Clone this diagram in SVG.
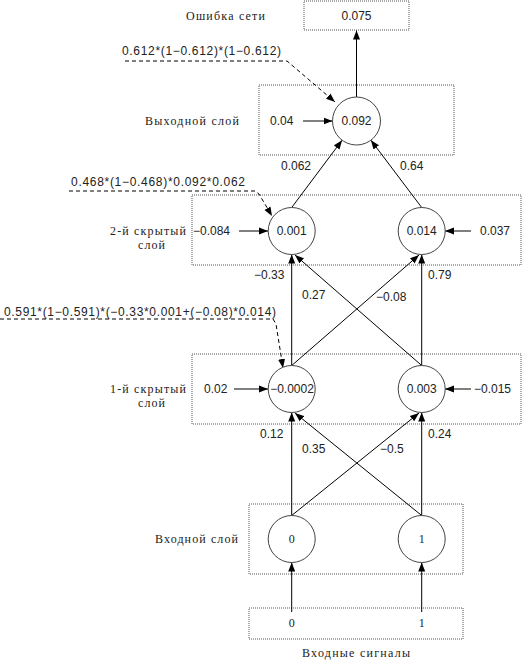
<svg xmlns="http://www.w3.org/2000/svg" width="527" height="667" viewBox="0 0 527 667">
<defs>
<marker id="ah" markerWidth="10" markerHeight="8" refX="9" refY="4" orient="auto" markerUnits="userSpaceOnUse">
<path d="M0,0.5 L9,4 L0,7.5 Z" fill="#000"/>
</marker>
<style>
.box{fill:none;stroke:#555;stroke-width:1;stroke-dasharray:1,1}
.node{fill:#fff;stroke:#444;stroke-width:1}
.c{stroke:#000;stroke-width:1;fill:none;marker-end:url(#ah)}
.d{stroke:#000;stroke-width:1;fill:none;stroke-dasharray:4,3}
.n{font-family:"Liberation Sans",Arial,sans-serif;font-size:12px;fill:#222}
.s{font-family:"Liberation Serif","Times New Roman",serif;font-size:12px;fill:#222}
.m{text-anchor:middle}
</style>
</defs>
<rect width="527" height="667" fill="#fff"/>

<g id="boxes">
<rect class="box" x="304" y="1" width="105" height="29"/>
<rect class="box" x="259" y="85" width="195" height="70"/>
<rect class="box" x="192" y="195" width="329" height="70"/>
<rect class="box" x="192" y="354" width="329" height="70"/>
<rect class="box" x="249" y="504" width="214" height="70"/>
<rect class="box" x="249" y="608" width="214" height="31"/>
</g>

<g id="labels">
<text class="s" x="186" y="20" textLength="79" lengthAdjust="spacing">Ошибка сети</text>
<text class="n m" x="356.5" y="20">0.075</text>
<text class="s" x="145" y="125" textLength="94" lengthAdjust="spacing">Выходной слой</text>
<text class="s" x="110" y="235" textLength="76" lengthAdjust="spacing">2-й скрытый</text>
<text class="s" x="138" y="249" textLength="27" lengthAdjust="spacing">слой</text>
<text class="s" x="110" y="393" textLength="76" lengthAdjust="spacing">1-й скрытый</text>
<text class="s" x="138" y="407" textLength="27" lengthAdjust="spacing">слой</text>
<text class="s" x="155" y="543" textLength="83" lengthAdjust="spacing">Входной слой</text>
<text class="s" x="302" y="657" textLength="108" lengthAdjust="spacing">Входные сигналы</text>
<text class="s m" x="291.7" y="627">0</text>
<text class="s m" x="421.7" y="627">1</text>
</g>

<g id="formulas">
<text class="n" x="122" y="55" textLength="159" lengthAdjust="spacing">0.612*(1−0.612)*(1−0.612)</text>
<text class="n" x="71" y="186" textLength="174" lengthAdjust="spacing">0.468*(1−0.468)*0.092*0.062</text>
<text class="n" x="4" y="316" textLength="272" lengthAdjust="spacing">0.591*(1−0.591)*(−0.33*0.001+(−0.08)*0.014)</text>
</g>

<g id="connectors">
<line class="c" x1="356.5" y1="97" x2="356.5" y2="30.5"/>
<line class="c" x1="291.7" y1="207.5" x2="342.1" y2="140.2"/>
<line class="c" x1="421.7" y1="207.5" x2="370.9" y2="140.2"/>
<line class="c" x1="291.7" y1="365.5" x2="291.7" y2="254.5"/>
<line class="c" x1="291.7" y1="365.5" x2="419" y2="255"/>
<line class="c" x1="421.7" y1="365.5" x2="421.7" y2="254.5"/>
<line class="c" x1="421.7" y1="365.5" x2="295" y2="255"/>
<line class="c" x1="291.7" y1="515.5" x2="291.7" y2="412.5"/>
<line class="c" x1="291.7" y1="515.5" x2="419" y2="413"/>
<line class="c" x1="421.7" y1="515.5" x2="421.7" y2="412.5"/>
<line class="c" x1="421.7" y1="515.5" x2="295" y2="413"/>
<line class="c" x1="291.7" y1="612" x2="291.7" y2="562.5"/>
<line class="c" x1="421.7" y1="612" x2="421.7" y2="562.5"/>
<line class="c" x1="303" y1="121" x2="332.5" y2="121"/>
<line class="c" x1="239" y1="231" x2="268" y2="231"/>
<line class="c" x1="471" y1="231" x2="445" y2="231"/>
<line class="c" x1="234" y1="389" x2="268" y2="389"/>
<line class="c" x1="471" y1="389" x2="445" y2="389"/>
<path class="d" d="M125,61 H287 L335,102" marker-end="url(#ah)"/>
<path class="d" d="M69,191 H255 L259,194 L272,216" marker-end="url(#ah)"/>
<path class="d" d="M0,319 H273 L276,324 L283,368" marker-end="url(#ah)"/>
</g>

<g id="weights">
<text class="n" x="281" y="170">0.062</text>
<text class="n" x="400" y="170">0.64</text>
<text class="n" x="270" y="125">0.04</text>
<text class="n" x="193" y="235">−0.084</text>
<text class="n" x="480" y="235">0.037</text>
<text class="n" x="254" y="279">−0.33</text>
<text class="n" x="428" y="279">0.79</text>
<text class="n" x="302" y="299">0.27</text>
<text class="n" x="376" y="301">−0.08</text>
<text class="n" x="204" y="393">0.02</text>
<text class="n" x="474" y="393">−0.015</text>
<text class="n" x="260" y="438">0.12</text>
<text class="n" x="428" y="438">0.24</text>
<text class="n" x="302" y="453">0.35</text>
<text class="n" x="380" y="453">−0.5</text>
</g>

<g id="n-out"><circle class="node" cx="356.5" cy="121" r="24"/><text class="n m" x="356.5" y="125">0.092</text></g>
<g id="n-h2a"><circle class="node" cx="291.7" cy="231" r="23.5"/><text class="n m" x="291.7" y="235">0.001</text></g>
<g id="n-h2b"><circle class="node" cx="421.7" cy="231" r="23.5"/><text class="n m" x="421.7" y="235">0.014</text></g>
<g id="n-h1a"><circle class="node" cx="291.7" cy="389" r="23.5"/><text class="n m" x="292" y="393">−0.0002</text></g>
<g id="n-h1b"><circle class="node" cx="421.7" cy="389" r="23.5"/><text class="n m" x="421.7" y="393">0.003</text></g>
<g id="n-in0"><circle class="node" cx="291.7" cy="539" r="23.5"/><text class="s m" x="291.7" y="543">0</text></g>
<g id="n-in1"><circle class="node" cx="421.7" cy="539" r="23.5"/><text class="s m" x="421.7" y="543">1</text></g>
</svg>
